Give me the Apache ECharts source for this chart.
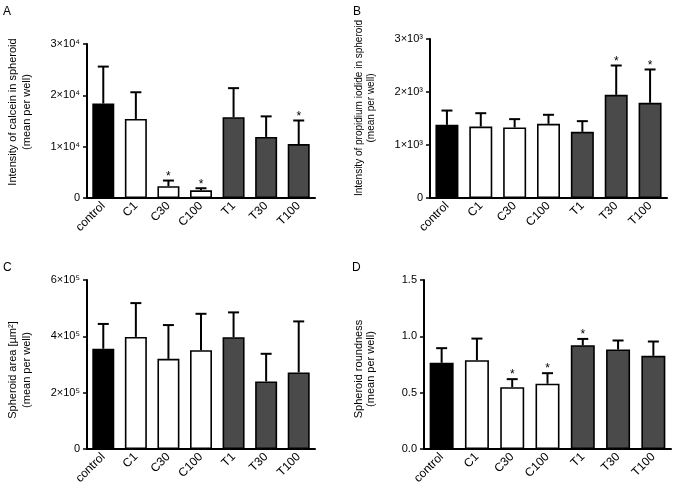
<!DOCTYPE html>
<html><head><meta charset="utf-8">
<script src="https://cdn.jsdelivr.net/npm/echarts@6/dist/echarts.min.js"></script>
<style>html,body{margin:0;padding:0;background:#fff}#c{width:677px;height:489px}</style>
</head><body><div id="c"></div>
<script>
const categories = ['control','C1','C30','C100','T1','T30','T100'];
const barColors = ['#000000','#ffffff','#ffffff','#ffffff','#4a4a4a','#4a4a4a','#4a4a4a'];

const meanA = [18400,15400,2300,1500,15750,11900,10500];
const sdA   = [7200,5200,1100,400,5650,4000,4600];
const sigA  = [0,0,1,1,0,0,1];
const ticksA = ['0','1×10⁴','2×10⁴','3×10⁴'];

const meanB = [1380,1348,1330,1400,1248,1947,1796];
const sdB   = [270,252,158,170,202,553,629];
const sigB  = [0,0,0,0,0,1,1];
const ticksB = ['0','1×10³','2×10³','3×10³'];

const meanC = [356000,398000,320000,351000,397000,240000,272000];
const sdC   = [88000,120000,120000,129000,88000,98000,181000];
const sigC  = [0,0,0,0,0,0,0];
const ticksC = ['0','2×10⁵','4×10⁵','6×10⁵'];

const meanD = [0.765,0.788,0.549,0.579,0.921,0.883,0.827];
const sdD   = [0.130,0.192,0.071,0.094,0.056,0.080,0.127];
const sigD  = [0,0,1,1,1,0,0];
const ticksD = ['0.0','0.5','1.0','1.5'];

const FONT = 'Arial, "Liberation Sans", Helvetica, sans-serif';

const panels = [
  {mean:meanA, sd:sdA, sig:sigA, ticks:ticksA, max:30000, step:10000, grid:{left:87,top:44,width:228,height:154}, bw:22,
   title:'Intensity of calcein in spheroid\n(mean per well)', tfs:11, tlh:14.5, tx:20, ty:112, letter:'A', lx:3, ly:6},
  {mean:meanB, sd:sdB, sig:sigB, ticks:ticksB, max:3000, step:1000, grid:{left:430,top:39,width:237,height:159}, bw:23,
   title:'Intensity of propidium iodide in spheroid\n(mean per well)', tfs:10, tlh:12, tx:365, ty:108, letter:'B', lx:353, ly:6},
  {mean:meanC, sd:sdC, sig:sigC, ticks:ticksC, max:600000, step:200000, grid:{left:87,top:280,width:228,height:169}, bw:22,
   title:'Spheroid area [µm²]\n(mean per well)', tfs:11, tlh:14.5, tx:20, ty:370, letter:'C', lx:3, ly:262},
  {mean:meanD, sd:sdD, sig:sigD, ticks:ticksD, max:1.5, step:0.5, grid:{left:424,top:280,width:247,height:169}, bw:24,
   title:'Spheroid roundness\n(mean per well)', tfs:11, tlh:12.5, tx:365, ty:369, letter:'D', lx:352, ly:262}
];

const grid = [], xAxis = [], yAxis = [], series = [], graphic = [];
panels.forEach((p, i) => {
  grid.push(Object.assign({}, p.grid));
  xAxis.push({
    type:'category', gridIndex:i, data:categories,
    axisLine:{lineStyle:{color:'#000', width:2}},
    axisTick:{alignWithLabel:true, length:4, lineStyle:{color:'#000', width:1.5}},
    axisLabel:{rotate:45, fontSize:12, color:'#000', fontFamily:FONT, margin:6, interval:0}
  });
  yAxis.push({
    type:'value', gridIndex:i, min:0, max:p.max, interval:p.step,
    splitLine:{show:false},
    axisLine:{show:true, lineStyle:{color:'#000', width:2}},
    axisTick:{show:true, length:4, lineStyle:{color:'#000', width:1.5}},
    axisLabel:{fontSize:11, color:'#000', fontFamily:FONT, margin:7,
      formatter:(v) => p.ticks[Math.round(v / p.step)]}
  });
  series.push({
    type:'bar', xAxisIndex:i, yAxisIndex:i, barWidth:p.bw,
    data:p.mean.map((v, k) => ({value:v, itemStyle:{color:barColors[k], borderColor:'#000', borderWidth:1.6}})),
    animation:false, z:2
  });
  series.push({
    type:'custom', xAxisIndex:i, yAxisIndex:i, animation:false, z:3,
    data:p.mean.map((v, k) => [k, v, v + p.sd[k], p.sig[k]]),
    encode:{x:0, y:[1,2]},
    renderItem:(params, api) => {
      const base = api.coord([api.value(0), api.value(1)]);
      const top = api.coord([api.value(0), api.value(2)]);
      const children = [
        {type:'line', shape:{x1:base[0], y1:base[1], x2:top[0], y2:top[1]}, style:{stroke:'#000', lineWidth:2}},
        {type:'line', shape:{x1:top[0]-5.5, y1:top[1], x2:top[0]+5.5, y2:top[1]}, style:{stroke:'#000', lineWidth:2}}
      ];
      if (api.value(3)) {
        children.push({type:'text', x:top[0], y:top[1]+2,
          style:{text:'*', fontSize:12, fontFamily:FONT, fill:'#000', align:'center', verticalAlign:'bottom'}});
      }
      return {type:'group', children};
    }
  });
  graphic.push({type:'text', x:p.tx, y:p.ty, rotation:Math.PI/2,
    style:{text:p.title, fontSize:p.tfs, fontFamily:FONT, fill:'#000', align:'center', verticalAlign:'middle', lineHeight:p.tlh}});
  graphic.push({type:'text', x:p.lx, y:p.ly,
    style:{text:p.letter, fontSize:12, fontFamily:FONT, fill:'#000', align:'left', verticalAlign:'top'}});
});

const chart = echarts.init(document.getElementById('c'), null, {renderer:'canvas'});
chart.setOption({animation:false, backgroundColor:'#fff', grid, xAxis, yAxis, series, graphic});
</script></body></html>
